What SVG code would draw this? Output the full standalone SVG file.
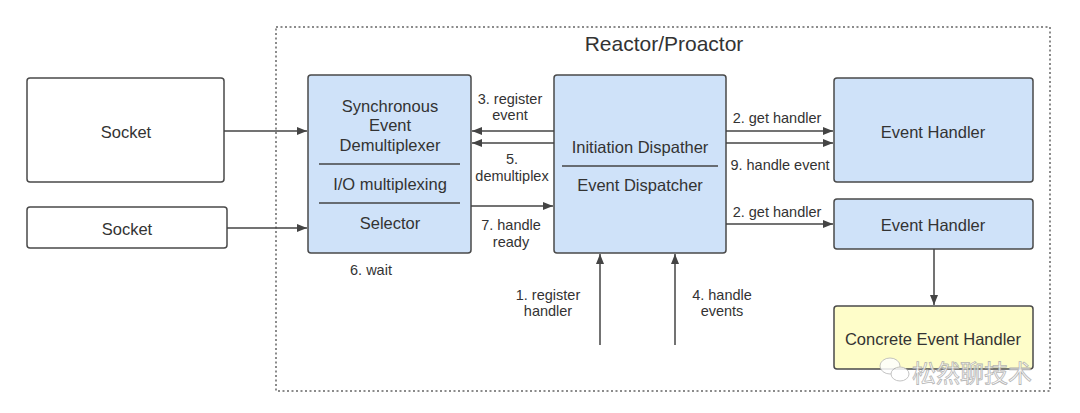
<svg xmlns="http://www.w3.org/2000/svg" width="1080" height="413" viewBox="0 0 1080 413">
<style>
.box{stroke:#4a4a4a;stroke-width:1.5}
.blue{fill:#cfe2f9}
.white{fill:#ffffff}
.yellow{fill:#fefdc9}
.t{font-family:"Liberation Sans",Arial,sans-serif;font-size:16.5px;fill:#333;text-anchor:middle;dominant-baseline:central}
.l{font-family:"Liberation Sans",Arial,sans-serif;font-size:14.5px;fill:#333;text-anchor:middle;dominant-baseline:central}
.c{stroke:#444;stroke-width:1.5;fill:none}
.div{stroke:#444;stroke-width:1.5}
</style>
<defs>
<marker id="ah" viewBox="0 0 10 8" refX="10" refY="4" markerWidth="10" markerHeight="8" markerUnits="userSpaceOnUse" orient="auto">
<path d="M0,0 L10,4 L0,8 z" fill="#444"/>
</marker>
</defs>
<rect width="1080" height="413" fill="#ffffff"/>
<g id="container">
<rect x="276" y="27" width="774" height="364" fill="none" stroke="#666" stroke-width="1.5" stroke-dasharray="2,2.5"/>
<text class="t" x="664" y="43" style="font-size:21px">Reactor/Proactor</text>
</g>
<g id="socket1"><rect class="box white" x="27" y="78" width="197" height="104" rx="3"/><text class="t" x="126" y="132">Socket</text></g>
<g id="socket2"><rect class="box white" x="27" y="207" width="200" height="41" rx="3"/><text class="t" x="127" y="229">Socket</text></g>
<g id="demux">
<rect class="box blue" x="308" y="75" width="163" height="178" rx="3"/>
<text class="t" x="390" y="106">Synchronous</text>
<text class="t" x="390" y="125">Event</text>
<text class="t" x="390" y="145">Demultiplexer</text>
<line class="div" x1="319" y1="164" x2="460" y2="164"/>
<text class="t" x="390" y="184">I/O multiplexing</text>
<line class="div" x1="319" y1="203" x2="460" y2="203"/>
<text class="t" x="390" y="223">Selector</text>
</g>
<g id="dispatcher">
<rect class="box blue" x="554" y="75" width="172" height="178" rx="3"/>
<text class="t" x="640" y="147">Initiation Dispather</text>
<line class="div" x1="562" y1="166" x2="718" y2="166"/>
<text class="t" x="640" y="185">Event Dispatcher</text>
</g>
<g id="handler1"><rect class="box blue" x="834" y="78" width="199" height="104" rx="3"/><text class="t" x="933" y="132">Event Handler</text></g>
<g id="handler2"><rect class="box blue" x="834" y="199" width="199" height="50" rx="3"/><text class="t" x="933" y="225">Event Handler</text></g>
<g id="concrete"><rect class="box yellow" x="834" y="306" width="199" height="63" rx="3"/><text class="t" x="933" y="339">Concrete Event Handler</text></g>
<g id="connectors">
<line class="c" x1="224" y1="131" x2="307" y2="131" marker-end="url(#ah)"/>
<line class="c" x1="227" y1="228" x2="307" y2="228" marker-end="url(#ah)"/>
<line class="c" x1="554" y1="131" x2="472" y2="131" marker-end="url(#ah)"/>
<line class="c" x1="554" y1="143" x2="472" y2="143" marker-end="url(#ah)"/>
<line class="c" x1="471" y1="206" x2="553" y2="206" marker-end="url(#ah)"/>
<line class="c" x1="726" y1="131" x2="833" y2="131" marker-end="url(#ah)"/>
<line class="c" x1="726" y1="143" x2="833" y2="143" marker-end="url(#ah)"/>
<line class="c" x1="726" y1="224" x2="833" y2="224" marker-end="url(#ah)"/>
<line class="c" x1="934" y1="249" x2="934" y2="305" marker-end="url(#ah)"/>
<line class="c" x1="600" y1="345" x2="600" y2="254" marker-end="url(#ah)"/>
<line class="c" x1="675" y1="345" x2="675" y2="254" marker-end="url(#ah)"/>
<text class="l" x="510" y="99">3. register</text>
<text class="l" x="510" y="115">event</text>
<text class="l" x="512" y="159">5.</text>
<text class="l" x="512" y="176">demultiplex</text>
<text class="l" x="511" y="225">7. handle</text>
<text class="l" x="511" y="242">ready</text>
<text class="l" x="371" y="270">6. wait</text>
<text class="l" x="777" y="118">2. get handler</text>
<text class="l" x="780" y="165">9. handle event</text>
<text class="l" x="777" y="212">2. get handler</text>
<text class="l" x="548" y="295">1. register</text>
<text class="l" x="548" y="311">handler</text>
<text class="l" x="722" y="295">4. handle</text>
<text class="l" x="722" y="311">events</text>
</g>
<g id="watermark" opacity="0.85">
<ellipse cx="890" cy="366" rx="10" ry="8" fill="#fff" stroke="#bbb" stroke-width="1"/>
<ellipse cx="900" cy="374" rx="9" ry="7" fill="#fff" stroke="#bbb" stroke-width="1"/>
<text x="912" y="371" style="font-family:'Noto Sans CJK SC',sans-serif;font-size:24px;fill:#fff;stroke:#aaa;stroke-width:0.8;dominant-baseline:central">松然聊技术</text>
</g>
</svg>
